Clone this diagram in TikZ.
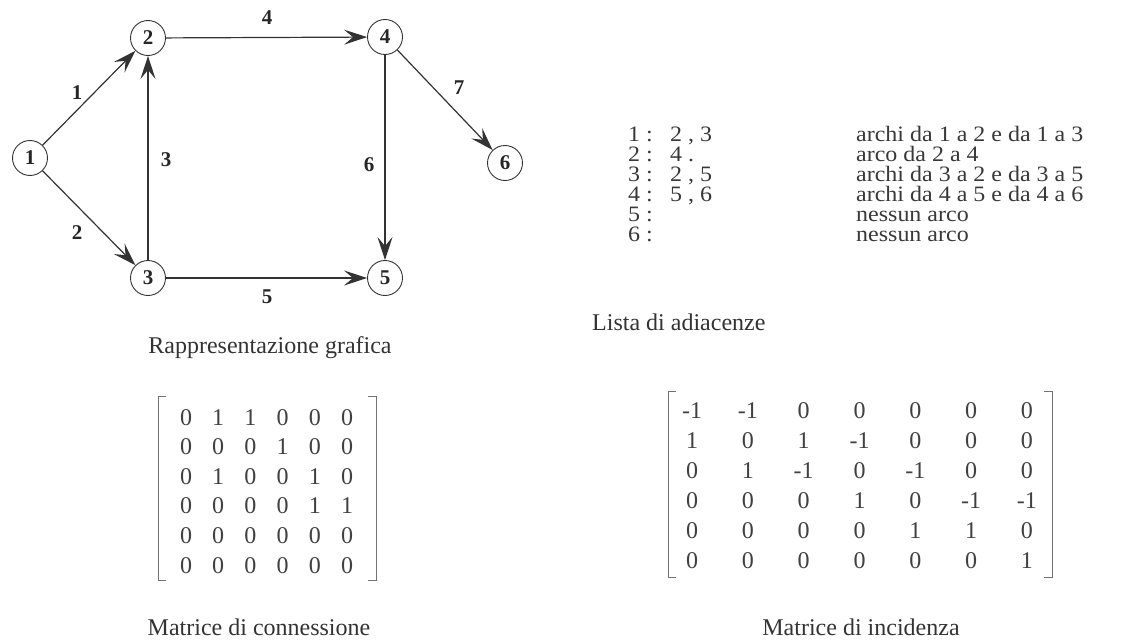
\documentclass[tikz,border=0pt]{standalone}
\usepackage{fontspec}
\setmainfont{Liberation Serif}
\newfontfamily\adjfont[FakeStretch=1.09]{Liberation Serif}
\usetikzlibrary{arrows.meta,matrix}
\begin{document}
\begin{tikzpicture}[x=1pt,y=-1pt,
  vertex/.style={circle, draw=black!80, line width=0.9pt, minimum size=35pt, inner sep=0pt,
    font=\fontsize{21}{21}\selectfont\bfseries, text=black!85},
  arc/.style={draw=black!80, line width=1.2pt, -{Stealth[length=23pt,width=15pt,inset=9pt]}},
  elabel/.style={font=\fontsize{21}{21}\selectfont\bfseries, text=black!85},
  caption/.style={font=\fontsize{24}{24}\selectfont, text=black!80},
  adj/.style={font=\adjfont\fontsize{22}{22}\selectfont, text=black!78, anchor=west, inner sep=0pt,
    text height=14pt, text depth=3pt},
  mat/.style={matrix of nodes, inner sep=0pt, column sep=0pt, row sep=0pt,
    nodes={inner sep=0pt, anchor=center, text height=16pt, text depth=0pt,
      font=\fontsize{24}{24}\selectfont, text=black!75}},
  bracket/.style={draw=black!55, line width=1pt}
]
\useasboundingbox (0,0) rectangle (1122,642);

% graph
\node[vertex] (n1) at (30,158) {1};
\node[vertex] (n2) at (148,38) {2};
\node[vertex] (n3) at (148,278) {3};
\node[vertex] (n4) at (385,37) {4};
\node[vertex] (n5) at (385,278) {5};
\node[vertex] (n6) at (505,163) {6};

\draw[arc] (n1) -- (n2);
\draw[arc] (n1) -- (n3);
\draw[arc] (n3) -- (n2);
\draw[arc] (n2) -- (n4);
\draw[arc] (n3) -- (n5);
\draw[arc] (n4) -- (n5);
\draw[arc] (n4) -- (n6);

\node[elabel] (l1) at (77,93) {1};
\node[elabel] (l2) at (77,233) {2};
\node[elabel] (l3) at (166,160) {3};
\node[elabel] (l4) at (267,18) {4};
\node[elabel] (l5) at (267,297) {5};
\node[elabel] (l6) at (369,165) {6};
\node[elabel] (l7) at (459,88) {7};

\node[caption] (capg) at (270,348) {Rappresentazione grafica};

% adjacency list
\node[adj] (a1) at (628,136) {\makebox[42pt][l]{1 :}2 , 3};
\node[adj] (a2) at (628,156) {\makebox[42pt][l]{2 :}4 .};
\node[adj] (a3) at (628,176) {\makebox[42pt][l]{3 :}2 , 5};
\node[adj] (a4) at (628,196) {\makebox[42pt][l]{4 :}5 , 6};
\node[adj] (a5) at (628,216) {5 :};
\node[adj] (a6) at (628,236) {6 :};
\node[adj] (b1) at (856,136) {archi da 1 a 2 e da 1 a 3};
\node[adj] (b2) at (856,156) {arco da 2 a 4};
\node[adj] (b3) at (856,176) {archi da 3 a 2 e da 3 a 5};
\node[adj] (b4) at (856,196) {archi da 4 a 5 e da 4 a 6};
\node[adj] (b5) at (856,216) {nessun arco};
\node[adj] (b6) at (856,236) {nessun arco};
\node[caption, anchor=west, inner sep=0pt] (capl) at (592,322) {Lista di adiacenze};

% connection matrix
\matrix[mat, nodes={minimum width=32.2pt, minimum height=29.6pt}] (mc) at (266.5,491) {
0 & 1 & 1 & 0 & 0 & 0 \\
0 & 0 & 0 & 1 & 0 & 0 \\
0 & 1 & 0 & 0 & 1 & 0 \\
0 & 0 & 0 & 0 & 1 & 1 \\
0 & 0 & 0 & 0 & 0 & 0 \\
0 & 0 & 0 & 0 & 0 & 0 \\
};
\draw[bracket] (166,396) -- (158,396) -- (158,580) -- (166,580);
\draw[bracket] (368,396) -- (376,396) -- (376,580) -- (368,580);
\node[caption] (capc) at (259,627) {Matrice di connessione};

% incidence matrix
\matrix[mat, nodes={minimum width=55.8pt, minimum height=30pt}] (mi) at (859.5,485) {
-1 & -1 & 0 & 0 & 0 & 0 & 0 \\
1 & 0 & 1 & -1 & 0 & 0 & 0 \\
0 & 1 & -1 & 0 & -1 & 0 & 0 \\
0 & 0 & 0 & 1 & 0 & -1 & -1 \\
0 & 0 & 0 & 0 & 1 & 1 & 0 \\
0 & 0 & 0 & 0 & 0 & 0 & 1 \\
};
\draw[bracket] (676,391) -- (668,391) -- (668,577) -- (676,577);
\draw[bracket] (1044,391) -- (1052,391) -- (1052,577) -- (1044,577);
\node[caption] (capi) at (861,627) {Matrice di incidenza};
\end{tikzpicture}
\end{document}
